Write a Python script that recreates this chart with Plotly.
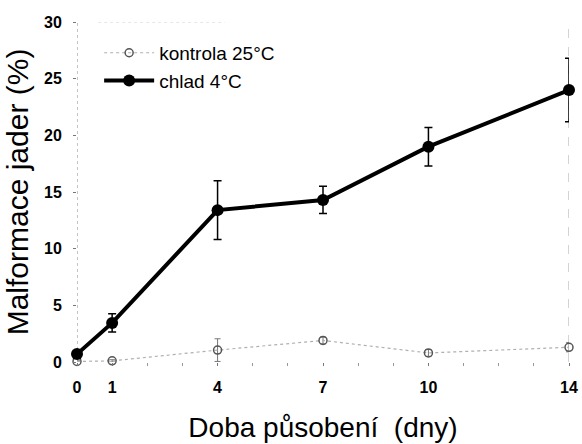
import plotly.graph_objects as go

days = [0, 1, 4, 7, 10, 14]
tick_labels = ["0", "1", "4", "7", "10", "14"]

kontrola = [0.05, 0.1, 1.05, 1.9, 0.8, 1.3]
kontrola_err = [0.1, 0.1, 1.0, 0.3, 0.3, 0.4]

chlad = [0.7, 3.45, 13.4, 14.3, 19.0, 24.0]
chlad_err = [0.2, 0.8, 2.6, 1.2, 1.7, 2.8]

fig = go.Figure()

fig.add_trace(go.Scatter(
    x=days, y=kontrola, name="kontrola 25°C", mode="lines+markers",
    line=dict(color="#b0b0b0", width=1.2, dash="dot"),
    marker=dict(symbol="circle-open", size=8, color="#555", line=dict(width=1.5)),
    error_y=dict(type="data", array=kontrola_err, color="#777", thickness=1, width=3),
    cliponaxis=False,
))
fig.add_trace(go.Scatter(
    x=days, y=chlad, name="chlad 4°C", mode="lines+markers",
    line=dict(color="black", width=4),
    marker=dict(symbol="circle", size=12, color="black"),
    error_y=dict(type="data", array=chlad_err, color="black", thickness=1.5, width=4),
    cliponaxis=False,
))

# faint scanned frame lines
fig.add_shape(type="line", xref="x", yref="y", x0=0, x1=0, y0=0, y1=30,
              line=dict(color="#8a8a8a", width=1, dash="dot"), layer="below")
fig.add_shape(type="line", xref="x", yref="y", x0=0.6, x1=4.2, y0=30, y1=30,
              line=dict(color="#cfcfcf", width=1, dash="dot"), layer="below")
fig.add_shape(type="line", xref="x", yref="y", x0=14, x1=14, y0=0, y1=30,
              line=dict(color="#a8a8a8", width=1, dash="dash"), layer="below")

font_family = "Liberation Sans, Arial, sans-serif"

fig.update_layout(
    width=582, height=444,
    margin=dict(l=77, r=13, t=22, b=82),
    paper_bgcolor="white", plot_bgcolor="white",
    font=dict(family=font_family, color="black"),
    showlegend=True,
    legend=dict(x=0.045, y=0.965, xanchor="left", yanchor="top",
                font=dict(size=19, family=font_family), bgcolor="rgba(0,0,0,0)",
                tracegroupgap=0, itemwidth=50),
    xaxis=dict(
        range=[0, 14], showgrid=False, zeroline=False, showline=False,
        automargin=False,
        tickvals=days, ticktext=tick_labels,
        ticks="outside", ticklen=3, tickcolor="#777",
        ticklabelstandoff=8,
        minor=dict(dtick=1, ticks="outside", ticklen=3, tickcolor="#999"),
        tickfont=dict(size=16, family=font_family, weight="bold"),
        title=dict(text="Doba působení\u00a0 (dny)", font=dict(size=28, family=font_family), standoff=22),
    ),
    yaxis=dict(
        range=[0, 30], showgrid=False, zeroline=False, showline=False,
        automargin=False,
        tickvals=[0, 5, 10, 15, 20, 25, 30],
        ticks="outside", ticklen=3, tickcolor="#777",
        ticklabelstandoff=8,
        tickfont=dict(size=16, family=font_family, weight="bold"),
        title=dict(text="Malformace jader (%)", font=dict(size=30, family=font_family), standoff=6),
    ),
)

fig.write_html("out.html")
